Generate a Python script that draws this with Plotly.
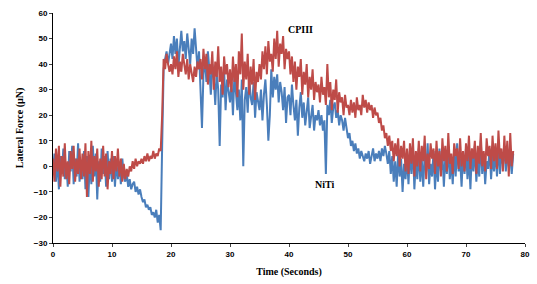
import numpy as np
import plotly.graph_objects as go

dt = 0.25
niti = [
    -2, 5, -6, 3, -9, 4, -3, 7, -5, 1, -8, 6, -2, 8, -7, 3, -4, 9, -6, 2,
    -5, 6, -9, 4, -12, 3, -7, 8, -4, 5, -13, 2, -6, 7, -3, 4, -8, 6, -5, 3,
    -6, 4, -8, 2, -5, 1, -7, 3, -4, -6, -3, -8, -5, -9, -7, -6, -10, -8, -11, -9,
    -12, -14, -13, -16, -15, -17, -16, -19, -18, -20, -17, -22, -19, -25, 8, 38, 42, 45, 40, 44,
    48, 42, 51, 44, 50, 39, 47, 53, 45, 49, 42, 52, 46, 40, 50, 44, 54, 47, 38, 45,
    30, 15, 36, 42, 33, 45, 38, 28, 40, 35, 24, 37, 30, 8, 32, 27, 38, 22, 34, 29,
    25, 33, 20, 36, 28, 22, 30, 18, 34, 0, 26, 31, 21, 35, 27, 24, 33, 19, 29, 25,
    22, 30, 18, 28, 34, 24, 10, 20, 38, 27, 35, 30, 36, 25, 33, 29, 22, 31, 17, 27,
    28, 20, 32, 24, 18, 26, 12, 23, 29, 19, 25, 16, 22, 27, 15, 21, 24, 14, 20, 18,
    22, 16, 20, 14, 18, -3, 24, 20, 26, 17, 23, 25, 19, 22, 16, 20, 18, 14, 19, 15,
    11, 13, 8, 10, 6, 9, 5, 7, 3, 6, 4, 2, 5, 3, 6, 1, 4, 7, 2, 5,
    3, 6, 2, 7, 4, 8, 5, 1, 6, -3, 4, -6, 2, -8, 5, -4, 3, -10, 1, -5,
    4, -7, 6, -3, 8, -9, 2, -5, 7, -6, 3, -8, 5, -2, 9, -7, 1, -4, 6, -9,
    3, -6, 7, -2, 5, -8, 4, -3, 8, -5, 2, -7, 6, -4, 9, -2, 3, -8, 5, -3,
    7, -5, 4, -9, 6, -2, 8, -6, 3, -4, 10, -3, 5, -7, 2, -1, 7, -5, 4, -2,
    6, -4, 9, -3, 5, 1, 8, -2, 6, 0, 4, -3, 5,
]
cpiii = [
    3, -6, 7, -2, 8, -8, 4, -4, 9, -5, 2, -7, 6, -1, 8, -6, 3, -3, 7, -5,
    5, -4, 9, -12, 6, -3, 10, -6, 4, -2, 7, -8, 3, -5, 8, -4, 5, -9, 2, -3,
    6, -5, 4, -2, 7, -4, 3, -6, 1, -5, -1, -4, 0, -2, 2, -1, 3, 0, 2, 1,
    3, 1, 4, 2, 5, 2, 4, 3, 6, 3, 5, 4, 7, 6, 20, 42, 38, 44, 40, 37,
    40, 36, 43, 38, 45, 35, 41, 37, 44, 39, 36, 42, 34, 40, 37, 33, 39, 35, 41, 38,
    42, 34, 46, 38, 44, 32, 40, 36, 45, 30, 41, 35, 47, 33, 39, 28, 43, 36, 40, 31,
    38, 29, 43, 33, 40, 27, 45, 36, 52, 30, 41, 34, 44, 28, 39, 32, 42, 26, 37, 33,
    40, 34, 45, 38, 47, 36, 49, 41, 44, 37, 50, 42, 53, 39, 48, 44, 51, 38, 46, 42,
    45, 36, 43, 33, 41, 30, 39, 35, 42, 28, 37, 32, 40, 27, 35, 30, 38, 26, 33, 29,
    32, 25, 35, 28, 31, 24, 40, 27, 33, 22, 30, 26, 34, 21, 29, 25, 27, 20, 28, 23,
    24, 20, 26, 21, 25, 19, 27, 22, 24, 20, 28, 23, 26, 21, 25, 22, 24, 19, 23, 20,
    21, 17, 19, 14, 16, 11, 13, 8, 12, 6, 10, 2, 9, 4, 11, 0, 8, 3, 10, -2,
    7, -3, 9, 1, 11, -4, 6, 0, 10, -2, 8, 2, 12, -5, 5, -1, 9, 3, 7, -3,
    10, 0, 6, -4, 11, 2, 8, -2, 13, 1, 5, -3, 9, 4, 7, -1, 11, 0, 6, -2,
    9, 2, 12, -1, 7, 3, 10, -3, 8, 1, 13, 0, 6, -2, 11, 4, 8, -1, 12, 2,
    9, -1, 14, 3, 7, -2, 12, 1, 10, -4, 13, 0, 6,
]
time = [i * dt for i in range(len(niti))]
x_ticks = [0, 10, 20, 30, 40, 50, 60, 70, 80]
y_ticks = [-30, -20, -10, 0, 10, 20, 30, 40, 50, 60]

fig = go.Figure()
fig.add_trace(go.Scatter(x=time, y=niti, mode="lines", name="NiTi",
                         line=dict(color="#4A7EBB", width=2)))
fig.add_trace(go.Scatter(x=time, y=cpiii, mode="lines", name="CPIII",
                         line=dict(color="#BE4B48", width=2)))

title_font = dict(family="Liberation Serif, Times New Roman, serif", size=10, color="black")
tick_font = dict(family="Liberation Sans, Arial, sans-serif", size=8, color="black", weight="bold")

fig.update_layout(
    width=537, height=284,
    margin=dict(l=53, r=7, t=13, b=41),
    paper_bgcolor="white", plot_bgcolor="white",
    showlegend=False,
    xaxis=dict(range=[0, 80], tickvals=x_ticks, ticks="outside", ticklen=3,
               showline=True, linecolor="black", linewidth=1, showgrid=False, zeroline=False,
               tickfont=tick_font, ticklabeloverflow="allow",
               title=dict(text="<b>Time (Seconds)</b>", font=title_font, standoff=10)),
    yaxis=dict(range=[-30, 60], tickvals=y_ticks, ticks="outside", ticklen=3,
               showline=True, linecolor="black", linewidth=1, showgrid=False, zeroline=False,
               tickfont=tick_font, ticklabeloverflow="allow",
               title=dict(text="<b>Lateral Force (µN)</b>", font=title_font, standoff=8)),
    annotations=[
        dict(x=41.9, y=53.7, text="<b>CPIII</b>", showarrow=False, font=title_font),
        dict(x=46.1, y=-7, text="<b>NiTi</b>", showarrow=False, font=title_font),
    ],
)
fig.write_html("out.html", config={"displayModeBar": False},
               post_script="document.body.style.margin='0';document.body.style.overflow='hidden';")
